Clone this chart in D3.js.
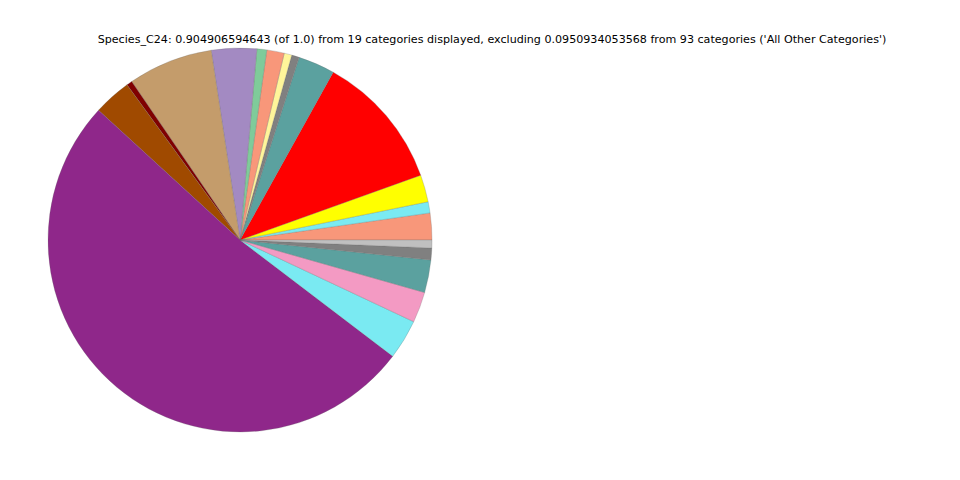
<!DOCTYPE html>
<html><head><meta charset="utf-8">
<script src="https://cdn.jsdelivr.net/npm/d3@7"></script>
<style>html,body{margin:0;padding:0;background:#fff;}svg{display:block;}</style>
</head><body>
<svg id="chart" width="960" height="480"></svg>
<script>
const titleText = "Species_C24: 0.904906594643 (of 1.0) from 19 categories displayed, excluding 0.0950934053568 from 93 categories ('All Other Categories')";
const categories = ["C1","C2","C3","C4","C5","C6","C7","C8","C9","C10","C11","C12","C13","C14","C15","C16","C17","C18","C19"];
const values = [0.0204,0.0085,0.0207,0.1036,0.0279,0.0058,0.0058,0.0133,0.0075,0.0344,0.0646,0.0043,0.0287,0.4655,0.0304,0.0234,0.0249,0.0090,0.0060];
const colors = ["#F8977A","#7AEAF2","#FFFF00","#FF0000","#5BA19F","#808080","#FFF59A","#F8977A","#7FCB9A","#A38AC2","#C49C6B","#800000","#A04A00","#8F278A","#7AEAF2","#F39AC3","#5BA19F","#808080","#C0C0C0"];

const svg = d3.select("#chart");
const cx = 240, cy = 240, r = 192;
const data = categories.map((c,i)=>({cat:c, value:values[i], color:colors[i]}));
const pie = d3.pie().value(d=>d.value).sort(null)
  .startAngle(Math.PI/2).endAngle(Math.PI/2 - 2*Math.PI);
const arc = d3.arc().innerRadius(0).outerRadius(r);
const g = svg.append("g").attr("transform", `translate(${cx},${cy})`);
g.selectAll("path").data(pie(data)).join("path")
  .attr("d", arc)
  .attr("fill", d=>d.data.color)
  .attr("stroke", "#666")
  .attr("stroke-opacity", 0.5)
  .attr("stroke-width", 0.5);

svg.append("text").attr("x", 492).attr("y", 43)
  .attr("text-anchor","middle")
  .attr("font-family","DejaVu Sans, sans-serif")
  .attr("font-size", 11.12)
  .attr("fill","#000")
  .text(titleText);
</script>
</body></html>
